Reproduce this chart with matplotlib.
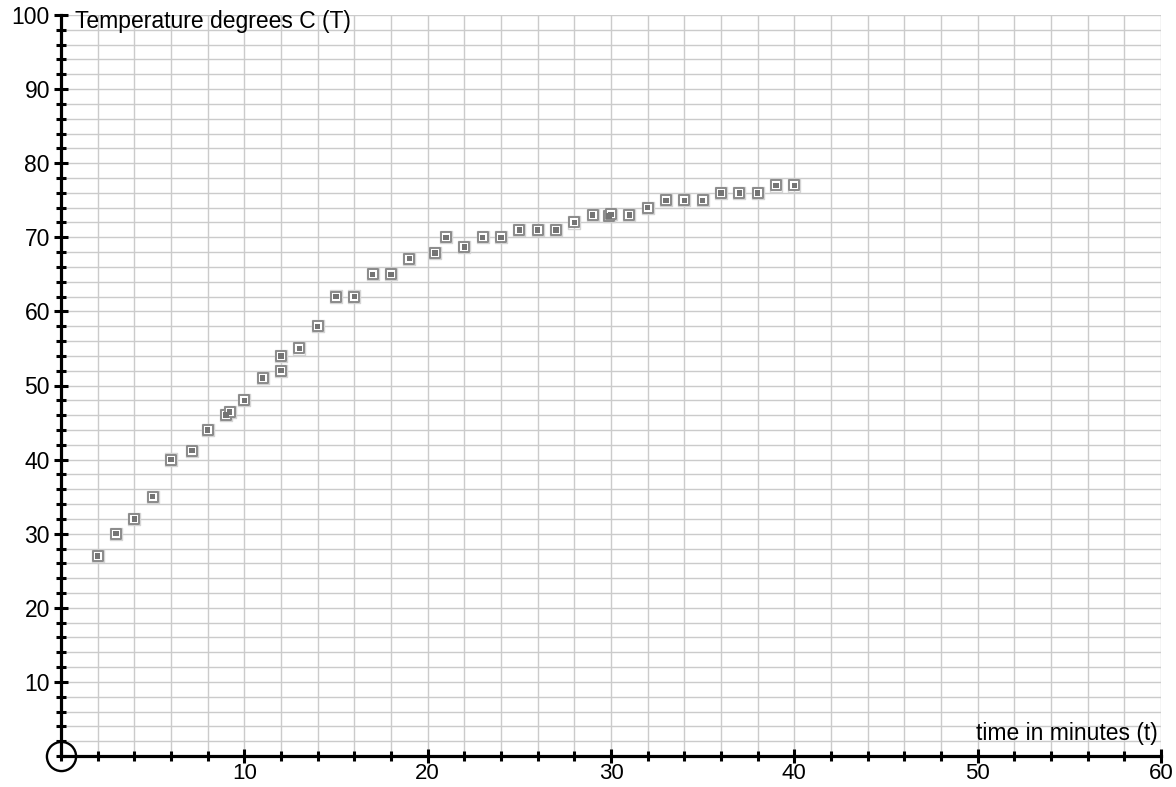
import matplotlib
matplotlib.use("Agg")
import matplotlib.pyplot as plt
from matplotlib.ticker import MultipleLocator

plt.rcParams['font.family'] = ['Liberation Sans', 'DejaVu Sans']

# data (time in minutes, temperature in degrees C)
time_min = [2, 3, 4, 5, 6, 7.15, 8, 9, 9.2, 10, 11, 12, 12, 13, 14, 15, 16, 17, 18,
            19, 20.4, 21, 22, 23, 24, 25, 26, 27, 28, 29, 29.9, 30, 31, 32, 33, 34, 35,
            36, 37, 38, 39, 40]
temp_c = [27, 30, 32, 35, 40, 41.2, 44, 46, 46.4, 48, 51, 52, 54, 55, 58, 62, 62, 65, 65,
          67.1, 67.9, 70, 68.7, 70, 70, 71, 71, 71, 72, 73, 72.9, 73.1, 73, 74, 75, 75, 75,
          76, 76, 76, 77, 77]

x_ticks = [10, 20, 30, 40, 50, 60]
y_ticks = [10, 20, 30, 40, 50, 60, 70, 80, 90, 100]
y_label = "Temperature degrees C (T)"
x_label = "time in minutes (t)"

FS = 16.5

fig = plt.figure(figsize=(11.76, 7.87), dpi=100)
ax = fig.add_axes([61 / 1176, (787 - 756) / 787, 1100 / 1176, 741 / 787])
ax.set_xlim(0, 60)
ax.set_ylim(0, 100)

# grid
ax.xaxis.set_minor_locator(MultipleLocator(2))
ax.yaxis.set_minor_locator(MultipleLocator(2))
ax.set_xticks(x_ticks)
ax.set_yticks(y_ticks)
ax.grid(True, which='both', color='#cbcbcb', linewidth=1.0)
ax.set_axisbelow(True)

for s in ['top', 'right']:
    ax.spines[s].set_visible(False)
for s in ['left', 'bottom']:
    ax.spines[s].set_linewidth(2.3)
    ax.spines[s].set_color('black')

ax.tick_params(which='major', direction='inout', length=10, width=2.2, labelsize=FS,
               colors='black')
ax.tick_params(which='minor', direction='inout', length=7, width=2.2)
ax.tick_params(axis='x', which='major', pad=0, labelsize=16)
ax.tick_params(axis='y', which='major', pad=3)

# markers
ax.scatter(time_min, temp_c, marker='s', s=78, facecolor='none', edgecolor='#d4d4d4',
           linewidth=1.0, zorder=3, clip_on=False)
ax.scatter(time_min, temp_c, marker='s', s=50, facecolor='white', edgecolor='#8a8a8a',
           linewidth=1.4, zorder=3, clip_on=False)
ax.scatter(time_min, temp_c, marker='s', s=15, facecolor='#747474', edgecolor='none',
           zorder=4, clip_on=False)

# origin circle
ax.plot([0], [0], marker='o', markersize=21, markerfacecolor='none',
        markeredgecolor='black', markeredgewidth=1.7, clip_on=False, zorder=5)

# axis labels
ax.annotate(y_label, xy=(0, 100), xytext=(14, -13), textcoords='offset pixels',
            ha='left', va='baseline', fontsize=FS, annotation_clip=False)
ax.annotate(x_label, xy=(60, 0), xytext=(-3, 16), textcoords='offset pixels',
            ha='right', va='baseline', fontsize=FS, annotation_clip=False)

fig.savefig("out.png", dpi=100)
